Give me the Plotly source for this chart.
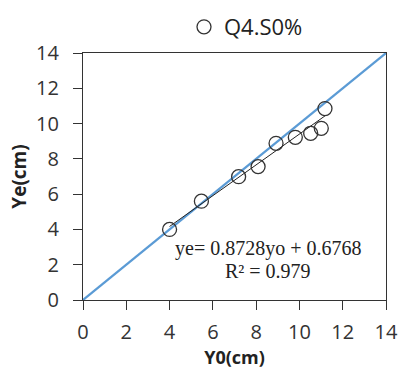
import plotly.graph_objects as go

# Data
y0_obs = [4.0, 5.47, 7.19, 8.09, 8.92, 9.81, 10.52, 11.01, 11.18]
ye_est = [4.0, 5.6, 6.99, 7.56, 8.88, 9.22, 9.45, 9.73, 10.85]
slope = 0.8728
intercept = 0.6768
ref_line_x = [0, 14]
tick_vals = [0, 2, 4, 6, 8, 10, 12, 14]
series_name = "Q4.S0%"

fit_x = [min(y0_obs), max(y0_obs)]
fit_y = [slope * v + intercept for v in fit_x]

FONT = "Open Sans"
fig = go.Figure()
fig.add_trace(go.Scatter(x=ref_line_x, y=ref_line_x, mode="lines",
                         line=dict(color="#5b9bd5", width=2.2), showlegend=False,
                         hoverinfo="skip"))
fig.add_trace(go.Scatter(x=fit_x, y=fit_y, mode="lines",
                         line=dict(color="#222222", width=1), showlegend=False))
fig.add_trace(go.Scatter(x=y0_obs, y=ye_est, mode="markers", name=series_name,
                         marker=dict(symbol="circle-open", size=14,
                                     color="#333333", line=dict(width=1.3))))

axis_common = dict(range=[0, 14], tickvals=tick_vals, showgrid=False, zeroline=False,
                   showline=True, linecolor="#333333", linewidth=1.2, mirror=True,
                   ticks="outside", ticklen=9, tickcolor="#333333", automargin=False,
                   tickfont=dict(family=FONT, size=20, color="#333333"))

fig.update_xaxes(**axis_common, ticklabelstandoff=5,
                 title=dict(text="<b>Y0(cm)</b>", standoff=0,
                            font=dict(family=FONT, size=18, color="#222222")))
fig.update_yaxes(**axis_common, ticklabelstandoff=10,
                 title=dict(text="<b>Ye(cm)</b>", standoff=4,
                            font=dict(family=FONT, size=19, color="#222222")))

fig.add_annotation(x=(268 - 83) / 303, y=(300 - 249) / 247, xref="paper", yref="paper",
                   xanchor="center", yanchor="middle",
                   showarrow=False, text="ye= 0.8728yo + 0.6768",
                   font=dict(family="Liberation Serif", size=20, color="#222222"))
fig.add_annotation(x=(268 - 83) / 303, y=(300 - 271) / 247, xref="paper", yref="paper",
                   xanchor="center", yanchor="middle",
                   showarrow=False, text="R² = 0.979",
                   font=dict(family="Liberation Serif", size=20, color="#222222"))

fig.update_layout(width=401, height=370, margin=dict(l=83, r=15, t=53, b=70),
                  plot_bgcolor="white", paper_bgcolor="white",
                  legend=dict(orientation="h", xref="container", yref="container",
                              x=246 / 401, xanchor="center",
                              y=1 - 27 / 370, yanchor="middle",
                              font=dict(family=FONT, size=22, color="#222222"),
                              itemwidth=30))

fig.write_html("out.html")
